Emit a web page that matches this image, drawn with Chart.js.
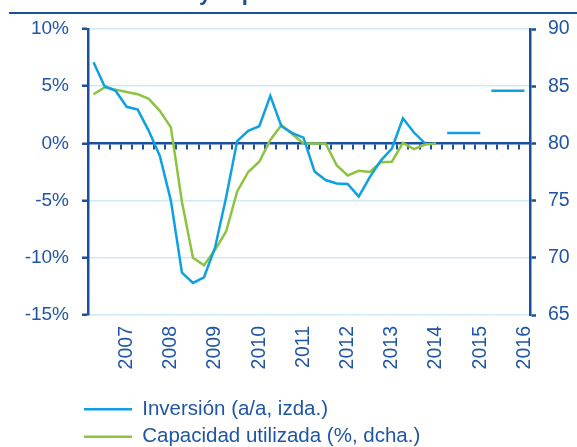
<!DOCTYPE html>
<html><head><meta charset="utf-8">
<script src="https://cdn.jsdelivr.net/npm/chart.js@4.4.1/dist/chart.umd.min.js"></script>
<style>
html,body{margin:0;padding:0;background:#fff;overflow:hidden;width:577px;height:447px}
#wrap{position:relative;width:577px;height:447px;overflow:hidden}
#title{position:absolute;left:9px;top:0;width:568px;height:12px;border-bottom:2.5px solid #1b4f9c;overflow:hidden;z-index:2}
#title span{position:absolute;left:86px;top:-18px;font:bold 22px 'Liberation Sans',Arial,sans-serif;line-height:22px;color:#1b4f9c;white-space:nowrap}
canvas{position:absolute;left:0;top:0}
</style></head><body>
<div id="wrap"><div id="title"><span>Inversión y capacidad utilizada</span></div><canvas id="c" width="577" height="457"></canvas></div>
<script>
// ---- data ----
const years = ['2007','2008','2009','2010','2011','2012','2013','2014','2015','2016'];
const quarterNames = ['T1','T2','T3','T4'];
const quarters = years.flatMap(y => quarterNames.map(q => q + ' ' + y));
// Inversión (a/a, %), eje izquierdo
const inversion = [7.1, 5.0, 4.6, 3.2, 2.95, 1.1, -1.1, -5.0, -11.3, -12.2, -11.7, -9.1, -4.7, 0.2, 1.1, 1.5,
                   4.15, 1.5, 0.9, 0.5, -2.45, -3.2, -3.5, -3.55, -4.65, -2.95, -1.5, -0.45, 2.2, 0.95, 0.0];
// Capacidad utilizada (%), eje derecho
const capacidad = [84.3, 84.9, 84.7, 84.5, 84.3, 83.9, 82.85, 81.4, 74.9, 70.0, 69.35, 70.7, 72.3, 75.8, 77.5, 78.4,
                   80.3, 81.6, 80.8, 80.0, 80.0, 80.0, 78.1, 77.2, 77.6, 77.5, 78.35, 78.4, 80.05, 79.5, 79.9, 80.0];
// Previsiones anuales de inversión (a/a, %)
const prevision2015 = 0.9;
const prevision2016 = 4.6;
const leftTicks = [-15, -10, -5, 0, 5, 10];
const rightTicks = [65, 70, 75, 80, 85, 90];

// ---- style ----
const C_TEXT = '#1f55a5', C_AXIS = '#1a4fa0', C_GRID = '#cfeaf6', C_BLUE = '#0ea0e0', C_GREEN = '#8cc43f';
const FONT = "'Liberation Sans', Arial, sans-serif";

const prev15 = quarters.map(q => q.endsWith('2015') ? prevision2015 : null);
const prev16 = quarters.map(q => q.endsWith('2016') ? prevision2016 : null);

// place the legend under the plot, starting just left of the plot area
const legendShift = {
  id: 'legendShift',
  afterLayout(chart) {
    const lg = chart.legend;
    if (!lg) return;
    const w = lg.right - lg.left;
    lg.left = chart.chartArea.left - 11;
    lg.right = lg.left + w;
  }
};

new Chart(document.getElementById('c'), {
  type: 'line',
  data: {
    labels: quarters,
    datasets: [
      { label: 'Inversión (a/a, izda.)', data: inversion, borderColor: C_BLUE, backgroundColor: C_BLUE, borderWidth: 2.5, yAxisID: 'y' },
      { label: 'Capacidad utilizada (%, dcha.)', data: capacidad, borderColor: C_GREEN, backgroundColor: C_GREEN, borderWidth: 2.5, yAxisID: 'y1' },
      { label: 'Previsión 2015', data: prev15, borderColor: C_BLUE, backgroundColor: C_BLUE, borderWidth: 2.5, yAxisID: 'y' },
      { label: 'Previsión 2016', data: prev16, borderColor: C_BLUE, backgroundColor: C_BLUE, borderWidth: 2.5, yAxisID: 'y' }
    ]
  },
  plugins: [legendShift],
  options: {
    responsive: false,
    animation: false,
    layout: { padding: { left: 0, right: 0, top: 29, bottom: 0 } },
    elements: { point: { radius: 0, hoverRadius: 0 }, line: { borderWidth: 2.5, tension: 0, fill: false } },
    font: { family: FONT },
    scales: {
      x: {
        type: 'category', position: 'bottom', offset: true,
        grid: { display: false, drawTicks: false }, border: { display: false },
        ticks: { autoSkip: false, minRotation: 90, maxRotation: 90, padding: 11, color: C_TEXT,
                 font: { family: FONT, size: 19.5 },
                 callback: (v, i) => (i % 4 === 3 ? quarters[i].slice(-4) : '') },
        afterFit: s => { s.height = 77; }
      },
      x0: {
        type: 'category', position: { y: 0 }, offset: true,
        grid: { offset: true, drawOnChartArea: false, color: C_AXIS, tickColor: C_AXIS, tickLength: 5, lineWidth: 2, tickWidth: 2 },
        border: { color: C_AXIS, width: 2.5 },
        ticks: { display: false, autoSkip: false }
      },
      y: {
        position: 'left', min: leftTicks[0], max: leftTicks[leftTicks.length - 1],
        afterBuildTicks: s => { s.ticks = leftTicks.map(v => ({ value: v })); },
        ticks: { padding: 13, color: C_TEXT, font: { family: FONT, size: 19 }, callback: v => v + '%' },
        grid: { color: c => (c.tick && c.tick.value === 0 ? 'rgba(0,0,0,0)' : C_GRID), lineWidth: 1.5,
                tickColor: C_AXIS, tickLength: 6, tickWidth: 2.5 },
        border: { color: C_AXIS, width: 2.5 },
        afterFit: s => { s.width = 88; }
      },
      y1: {
        position: 'right', min: rightTicks[0], max: rightTicks[rightTicks.length - 1],
        afterBuildTicks: s => { s.ticks = rightTicks.map(v => ({ value: v })); },
        ticks: { padding: 12, color: C_TEXT, font: { family: FONT, size: 19.5 } },
        grid: { drawOnChartArea: false, color: C_AXIS, tickColor: C_AXIS, tickLength: 6, tickWidth: 2.5 },
        border: { color: C_AXIS, width: 2.5 },
        afterFit: s => { s.width = 47; }
      }
    },
    plugins: {
      tooltip: { enabled: false },
      title: { display: false },
      legend: {
        position: 'bottom', align: 'start',
        labels: { usePointStyle: true, pointStyle: 'line', pointStyleWidth: 48, padding: 7, color: C_TEXT,
                  font: { family: FONT, size: 20.5 }, filter: item => item.datasetIndex < 2 }
      }
    }
  }
});
</script>
</body></html>
